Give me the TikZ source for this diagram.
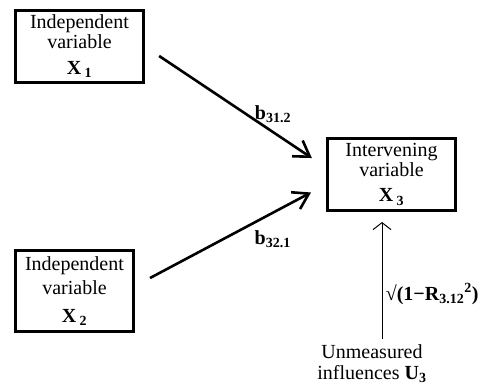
\documentclass[tikz,border=0pt]{standalone}
\usepackage{fontspec}
\setmainfont{Liberation Serif}
\usetikzlibrary{arrows.meta}

\begin{document}
\begin{tikzpicture}[x=1pt,y=-1pt,font=\fontsize{20}{20}\selectfont,
		varbox/.style={rectangle,draw=black,line width=2.6pt,align=center,inner sep=0pt},
		effect/.style={line width=2.6pt,-{Straight Barb[length=15pt,width=19pt]},shorten <=17pt,shorten >=17pt},
		weight/.style={inner sep=0pt}]
		\useasboundingbox (0,0) rectangle (483,388);

		% variables
		\node[varbox,minimum width=128.4,minimum height=72.4] (x1) at (79.5,46.5) {Independent\\variable\\[6pt]\textbf{X}\,\textbf{\textsubscript{1}}};
		\node[varbox,minimum width=118.4,minimum height=81.4,font=\fontsize{20}{24}\selectfont] (x2) at (74.5,291) {Independent\\variable\\[4pt]\textbf{X}\,\textbf{\textsubscript{2}}};
		\node[varbox,minimum width=128.4,minimum height=72.4] (x3) at (391.5,174.5) {Intervening\\variable\\[5pt]\textbf{X}\,\textbf{\textsubscript{3}}};
		\node[align=center,inner sep=3pt,font=\fontsize{20}{21}\selectfont] (u3) at (372,364) {Unmeasured\\influences \textbf{U\textsubscript{3}}};

		% paths
		\draw[effect] (x1.east) -- node[weight,anchor=base west,pos=0.6] {\textbf{b\textsubscript{31.2}}} ([yshift=7pt]x3.west);
		\draw[effect] ([yshift=5pt]x2.east) -- node[weight,anchor=north west,pos=0.62,yshift=-6pt] {\textbf{b\textsubscript{32.1}}} ([yshift=-10pt]x3.west);

		% residual
		\draw[line width=1pt,-{Straight Barb[length=7pt,width=18pt]},shorten <=3pt,shorten >=10pt] ([xshift=10pt]u3.north) -- node[right,pos=0.37] {\textbf{√(1−R\textsubscript{3.12}\textsuperscript{2})}} ([xshift=-9.5pt]x3.south);
\end{tikzpicture}
\end{document}
